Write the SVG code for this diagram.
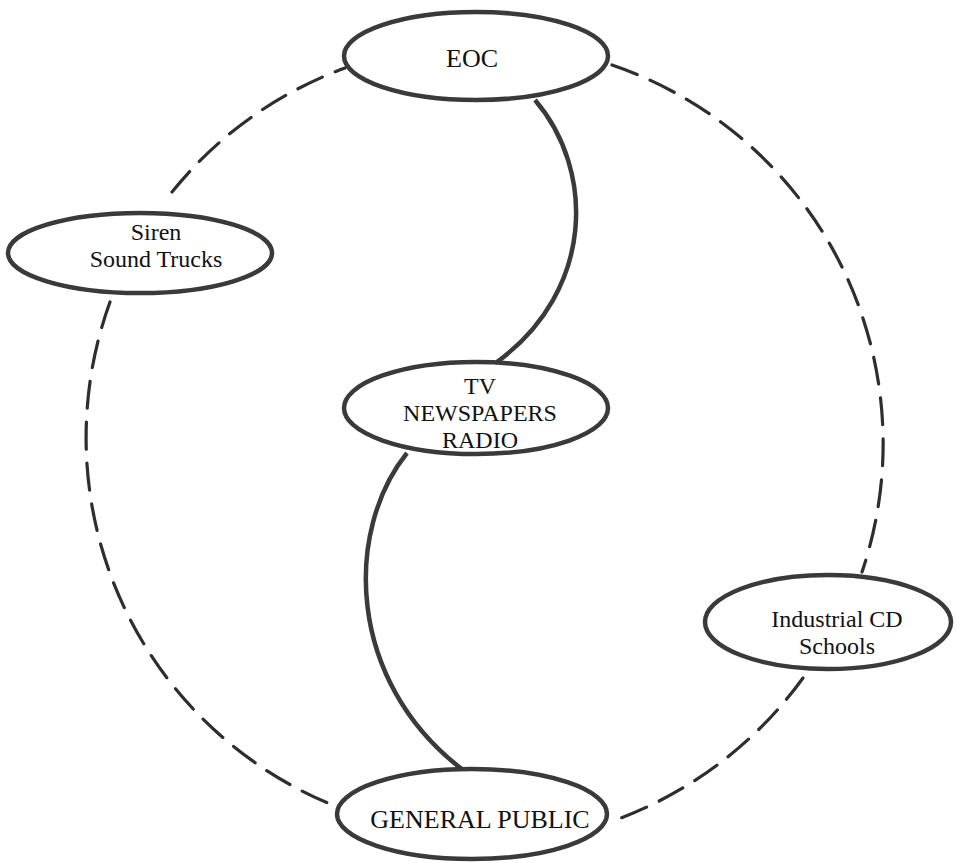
<svg xmlns="http://www.w3.org/2000/svg" width="956" height="863" viewBox="0 0 956 863">
<style>
.node ellipse{fill:#fff;stroke:#3a3a3a;stroke-width:4.5}
.node text{font-family:"Liberation Serif","Times New Roman",serif;font-size:24px;fill:#111;text-anchor:middle}
.node text.big{font-size:26px}
.dash{fill:none;stroke:#2e2e2e;stroke-width:3.2;stroke-dasharray:27 14;stroke-linecap:round}
.solid{fill:none;stroke:#3a3a3a;stroke-width:4.5}
</style>
<rect width="956" height="863" fill="#fff"/>
<g id="connectors">
<path class="dash" d="M172,192 A397,397 0 0 1 345,68"/>
<path class="dash" d="M612,65 A400,400 0 0 1 862,572"/>
<path class="dash" d="M110,302 A397,397 0 0 0 340,808"/>
<path class="dash" d="M803,678 A402,402 0 0 1 610,822"/>
<path class="solid" d="M535,100 C595,170 595,290 497,362"/>
<path class="solid" d="M407,453 C345,530 345,680 463,770"/>
</g>
<g id="eoc" class="node">
<ellipse cx="476" cy="56" rx="132" ry="44"/>
<text class="big" x="472" y="67">EOC</text>
</g>
<g id="siren" class="node">
<ellipse cx="140" cy="253" rx="132" ry="40"/>
<text x="156" y="240">Siren</text>
<text x="156" y="267">Sound Trucks</text>
</g>
<g id="media" class="node">
<ellipse cx="476" cy="408" rx="132" ry="46"/>
<text x="480" y="394">TV</text>
<text x="480" y="421">NEWSPAPERS</text>
<text x="480" y="448">RADIO</text>
</g>
<g id="industrial" class="node">
<ellipse cx="828" cy="622" rx="123" ry="47"/>
<text x="837" y="627">Industrial CD</text>
<text x="837" y="654">Schools</text>
</g>
<g id="public" class="node">
<ellipse cx="472" cy="814" rx="135" ry="45"/>
<text class="big" x="480" y="828">GENERAL PUBLIC</text>
</g>
</svg>
